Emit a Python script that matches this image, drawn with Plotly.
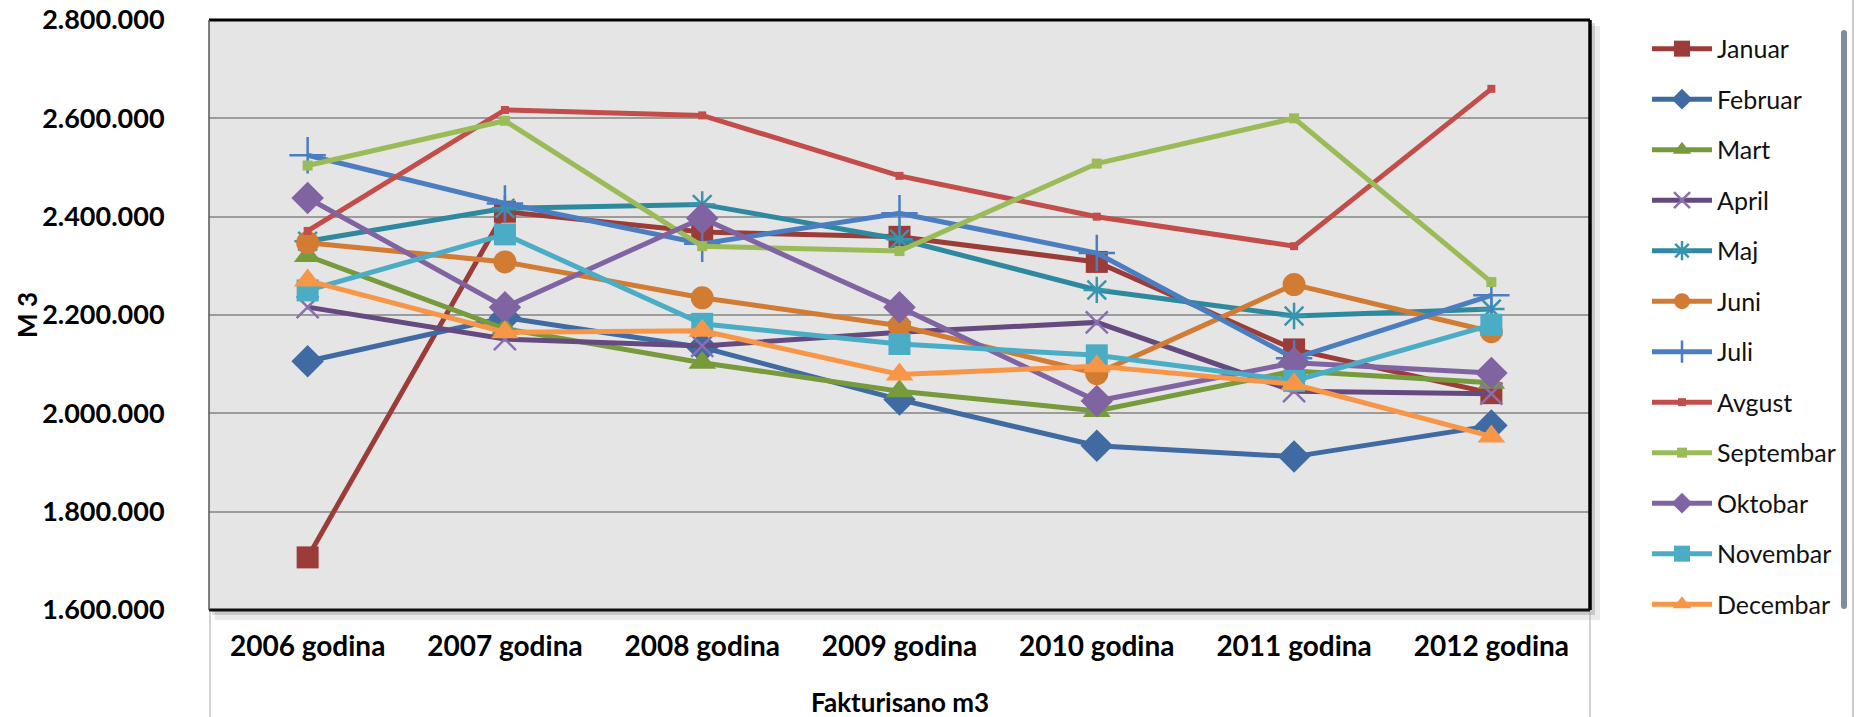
import plotly.graph_objects as go

categories = ["2006 godina", "2007 godina", "2008 godina", "2009 godina",
              "2010 godina", "2011 godina", "2012 godina"]

januar    = [1707000, 2410000, 2369000, 2359000, 2308000, 2130000, 2041000]
februar   = [2106000, 2195000, 2134000, 2028000, 1934000, 1912000, 1975000]
mart      = [2320000, 2172000, 2103000, 2045000, 2005000, 2086000, 2062000]
april     = [2216000, 2151000, 2137000, 2165000, 2185000, 2045000, 2040000]
maj       = [2350000, 2417000, 2425000, 2354000, 2251000, 2198000, 2212000]
juni      = [2347000, 2308000, 2235000, 2178000, 2081000, 2262000, 2166000]
juli      = [2525000, 2427000, 2345000, 2407000, 2326000, 2112000, 2240000]
avgust    = [2371000, 2617000, 2606000, 2483000, 2400000, 2340000, 2660000]
septembar = [2504000, 2595000, 2340000, 2330000, 2508000, 2600000, 2267000]
oktobar   = [2438000, 2216000, 2397000, 2216000, 2025000, 2103000, 2082000]
novembar  = [2250000, 2364000, 2182000, 2141000, 2118000, 2066000, 2180000]
decembar  = [2270000, 2165000, 2168000, 2079000, 2096000, 2059000, 1953000]

series_names = ["Januar", "Februar", "Mart", "April", "Maj", "Juni", "Juli",
                "Avgust", "Septembar", "Oktobar", "Novembar", "Decembar"]
series_values = [januar, februar, mart, april, maj, juni, juli,
                 avgust, septembar, oktobar, novembar, decembar]

y_ticks = [1600000, 1800000, 2000000, 2200000, 2400000, 2600000, 2800000]

styles = [
    dict(color="#9C3C39", symbol="square", size=22),
    dict(color="#3F6AA2", symbol="diamond", size=25),
    dict(color="#779A3D", symbol="triangle-up", size=24),
    dict(color="#654A80", symbol="x-thin-open", size=22, lw=2.5, mcolor="#8A6FB0"),
    dict(color="#2F899E", symbol="asterisk-open", size=22, lw=2.5, mcolor="#3796AD"),
    dict(color="#D17B33", symbol="circle", size=23),
    dict(color="#4A7EC1", symbol="cross-thin-open", size=26, lw=2.5),
    dict(color="#C24D4A", symbol="square", size=8),
    dict(color="#9BBB59", symbol="square", size=10),
    dict(color="#8064A2", symbol="diamond", size=25),
    dict(color="#4BACC6", symbol="square", size=22),
    dict(color="#F79646", symbol="triangle-up", size=24),
]

fig = go.Figure()
for name, vals, st in zip(series_names, series_values, styles):
    mcol = st.get("mcolor", st["color"])
    marker = dict(symbol=st["symbol"], size=st["size"], color=mcol,
                  line=dict(width=st.get("lw", 0), color=mcol))
    fig.add_trace(go.Scatter(
        x=categories, y=vals, name=name, mode="lines+markers",
        line=dict(color=st["color"], width=5),
        marker=marker, legendgroup=name,
    ))

# plot area geometry (pixels)
W, H = 1861, 717
L, R, T, B = 209, 1590, 20, 610

FONT = "Lato, Arial, sans-serif"

fig.update_layout(
    width=W, height=H,
    margin=dict(l=L, r=W - R, t=T, b=H - B, autoexpand=False),
    paper_bgcolor="white",
    plot_bgcolor="rgba(0,0,0,0)",
    separators=",.",
    font=dict(family=FONT, color="#000000"),
    showlegend=True,
    legend=dict(
        x=(1647 - L) / (R - L), xanchor="left",
        y=0.99, yanchor="top",
        font=dict(size=25, family=FONT, color="#111111"),
        tracegroupgap=15,
        bgcolor="rgba(0,0,0,0)",
        itemwidth=60,
    ),
    xaxis=dict(
        type="category", range=[-0.5, 6.5],
        showgrid=False, zeroline=False, showline=False,
        ticks="outside", ticklen=11, tickcolor="rgba(0,0,0,0)",
        tickfont=dict(size=28, family=FONT, color="#000000", weight="bold"),
    ),
    yaxis=dict(
        range=[1600000, 2800000], tickvals=y_ticks, tickformat=",d",
        showgrid=True, gridcolor="#9C9C9C", gridwidth=1.5,
        zeroline=False, showline=False,
        ticks="outside", ticklen=38, tickcolor="rgba(0,0,0,0)",
        tickfont=dict(size=27, family=FONT, color="#000000", weight="bold"),
    ),
    annotations=[
        dict(text="<b>M 3</b>", xref="paper", yref="paper",
             x=(27 - L) / (R - L), y=0.5, textangle=-90, showarrow=False,
             font=dict(size=26, family=FONT, color="#000000"),
             xanchor="center", yanchor="middle"),
        dict(text="<b>Fakturisano m3</b>", xref="paper", yref="paper",
             x=0.5, y=-(702 - B) / (B - T), showarrow=False,
             font=dict(size=26, family=FONT, color="#000000"),
             xanchor="center", yanchor="middle"),
    ],
)

def px(x):
    return (x - L) / (R - L)

def py(y):
    return (B - y) / (B - T)

shapes = [
    # soft shadow of the plot frame
    dict(type="rect", xref="paper", yref="paper", layer="below",
         x0=px(L + 6), x1=px(R + 10), y0=py(B + 10), y1=py(T + 6),
         line=dict(width=0), fillcolor="rgba(0,0,0,0.08)"),
    dict(type="rect", xref="paper", yref="paper", layer="below",
         x0=px(L + 3), x1=px(R + 5), y0=py(B + 5), y1=py(T + 3),
         line=dict(width=0), fillcolor="rgba(0,0,0,0.14)"),
    # plot background on top of the shadow
    dict(type="rect", xref="paper", yref="paper", layer="below",
         x0=0, x1=1, y0=0, y1=1, line=dict(width=0), fillcolor="#E5E5E5"),
    # frame lines
    dict(type="line", xref="paper", yref="paper", x0=0, x1=1, y0=1, y1=1,
         line=dict(color="#000000", width=3)),
    dict(type="line", xref="paper", yref="paper", x0=1, x1=1, y0=0, y1=1,
         line=dict(color="#000000", width=3.5)),
    dict(type="line", xref="paper", yref="paper", x0=0, x1=1, y0=0, y1=0,
         line=dict(color="#111111", width=3)),
    dict(type="line", xref="paper", yref="paper", x0=0, x1=0, y0=0, y1=1,
         line=dict(color="#555555", width=1.5)),
    # thin chart-area edge lines
    dict(type="line", xref="paper", yref="paper", x0=px(L + 1), x1=px(L + 1),
         y0=py(B + 2), y1=py(H), line=dict(color="#A6A6A6", width=1)),
    dict(type="line", xref="paper", yref="paper", x0=1, x1=1,
         y0=py(B + 2), y1=py(H), line=dict(color="#A6A6A6", width=1)),
    dict(type="line", xref="paper", yref="paper", x0=px(1853), x1=px(1853),
         y0=py(0), y1=py(H), line=dict(color="#A6A6A6", width=1.2)),
]
fig.update_layout(shapes=shapes)

fig.write_html(
    "out.html",
    config={"displayModeBar": False},
    post_script="document.body.style.margin='0';document.body.style.overflow='hidden';",
)
